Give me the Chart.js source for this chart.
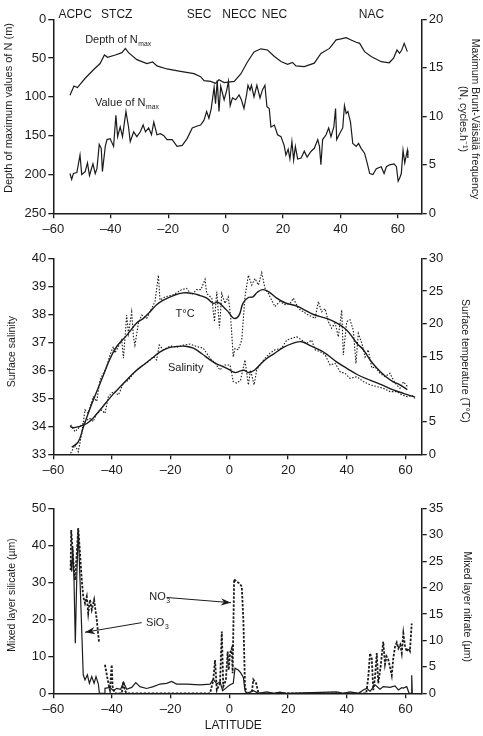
<!DOCTYPE html>
<html>
<head>
<meta charset="utf-8">
<script src="https://cdn.jsdelivr.net/npm/chart.js@4.4.1/dist/chart.umd.min.js"></script>
<style>
  html, body { margin: 0; padding: 0; background: #fff; }
  #wrap { position: relative; width: 483px; height: 736px; }
  canvas { position: absolute; left: 0; }
</style>
</head>
<body>
<div id="wrap">
  <canvas id="c1" width="483" height="240" style="top:0"></canvas>
  <canvas id="c2" width="483" height="240" style="top:240px"></canvas>
  <canvas id="c3" width="483" height="256" style="top:480px"></canvas>
</div>
<script>
// ---- data (latitude, value) ----
const latTicks = [-60, -40, -20, 0, 20, 40, 60]
const depthTicks = [0, 50, 100, 150, 200, 250]
const freqTicks = [0, 5, 10, 15, 20]
const salTicks = [33, 34, 35, 36, 37, 38, 39, 40]
const tempTicks = [0, 5, 10, 15, 20, 25, 30]
const silTicks = [0, 10, 20, 30, 40, 50]
const nitTicks = [0, 5, 10, 15, 20, 25, 30, 35]

const currents = ['ACPC', 'STCZ', 'SEC', 'NECC', 'NEC', 'NAC']
const currentLat = [-52.4, -37.9, -9.2, 4.8, 17.0, 50.8]

// panel 1: depth of Nmax (m) and value of Nmax (cycles/h)
const depthNmax = [[-54.2,98],[-52.8,86],[-51.6,88],[-48.9,76],[-46.0,65],[-43.7,57],[-42.2,46],[-41.1,49],[-38.4,46],[-36.1,43],[-34.9,37.5],[-33.8,43],[-30.9,52],[-27.4,57],[-25.4,55],[-23.9,60],[-20.4,64],[-15.7,67],[-11.0,70],[-8.7,74],[-7.5,79],[-5.2,80],[-3.5,82.5],[-2.3,78],[-0.5,81.5],[3.0,80],[5.3,70.5],[7.6,55],[9.9,42],[12.3,38],[14.6,39.5],[17.0,48],[19.3,54.5],[21.6,58],[23.3,55.5],[24.5,60],[27.4,61],[30.9,56.5],[33.2,44],[36.2,37.5],[38.5,26.5],[40.2,25.3],[42.0,23.6],[43.7,26.6],[45.5,29.6],[46.7,31],[48.4,41.7],[50.7,48],[54.2,54.6],[57.0,56],[58.5,50],[59.7,39.6],[60.6,43.8],[61.3,40],[62.2,31],[63.3,41.7]]
const valueNmax = [[-54.2,4.1],[-53.6,3.5],[-53.0,4.1],[-51.8,4.2],[-50.7,6.0],[-50.1,4.0],[-48.9,4.3],[-48.1,5.2],[-47.4,3.9],[-46.2,5.1],[-45.4,4.1],[-44.8,4.6],[-44.0,7.1],[-43.3,6.7],[-42.9,4.3],[-41.9,6.9],[-41.3,7.6],[-40.2,7.7],[-39.0,6.9],[-38.2,10.1],[-37.6,7.9],[-36.7,8.9],[-35.9,7.9],[-34.7,10.5],[-33.8,8.9],[-33.2,7.4],[-32.0,8.4],[-30.9,7.9],[-29.7,8.4],[-28.7,9.1],[-27.9,8.4],[-26.8,8.8],[-25.8,8.1],[-25.0,9.4],[-23.9,8.1],[-22.7,8.2],[-21.5,8.0],[-20.4,7.6],[-18.6,7.6],[-16.9,6.9],[-15.1,7.0],[-13.4,7.7],[-11.6,8.8],[-9.9,9.0],[-8.7,9.1],[-7.5,9.6],[-6.6,10.5],[-5.8,9.8],[-5.0,10.8],[-4.0,13.0],[-3.5,11.3],[-2.9,13.7],[-2.3,10.5],[-1.7,13.1],[-1.1,12.4],[-0.5,11.7],[0.4,12.7],[1.0,13.6],[1.6,11.1],[2.4,11.9],[3.5,11.7],[4.7,12.2],[5.5,11.7],[6.4,10.8],[7.3,12.2],[7.8,13.2],[8.5,12.7],[9.0,13.2],[9.9,12.0],[10.9,13.2],[12.0,11.9],[12.8,12.7],[13.7,13.2],[14.4,11.0],[15.2,10.8],[15.8,8.9],[17.0,9.1],[18.1,8.1],[19.3,7.9],[20.4,7.0],[21.0,6.0],[21.8,6.6],[22.4,5.6],[23.1,7.4],[23.7,5.5],[24.3,6.9],[25.1,5.6],[26.3,5.7],[27.4,6.4],[28.4,5.8],[29.8,6.4],[30.9,6.7],[32.1,7.6],[32.7,6.9],[33.2,5.0],[33.8,7.6],[35.0,8.1],[35.9,8.8],[36.7,7.9],[37.7,8.9],[38.3,10.8],[38.7,7.6],[39.7,8.2],[40.8,8.8],[41.4,11.1],[42.0,10.3],[42.6,10.5],[43.5,9.4],[44.3,7.2],[45.5,6.9],[46.3,7.2],[47.2,6.7],[48.4,6.2],[49.3,5.2],[50.2,4.1],[51.3,4.0],[52.5,4.6],[54.2,4.8],[55.2,4.1],[56.0,4.8],[57.1,5.0],[58.7,5.1],[59.5,4.8],[60.1,3.3],[60.6,3.6],[61.2,4.1],[61.8,6.5],[62.4,5.2],[63.3,6.5],[63.5,5.7]]

// panel 2: surface temperature and salinity, smoothed and raw
const tempSmooth = [[-53.7,1.1],[-51.5,1.9],[-49.8,4.1],[-47.5,7.0],[-45.2,9.6],[-42.95,12.1],[-40.7,14.6],[-38.4,16.5],[-35.0,18.2],[-31.6,20.1],[-29.3,20.8],[-27.1,21.8],[-24.8,22.9],[-22.5,23.6],[-19.1,24.3],[-15.7,24.7],[-12.3,24.6],[-10.0,24.3],[-7.7,23.9],[-5.5,23.1],[-4.0,23.3],[-2.1,22.6],[-0.4,21.8],[1.6,20.8],[3.3,21.3],[4.6,23.1],[6.45,24.0],[8.0,24.1],[9.5,24.8],[11.3,25.2],[13.3,24.9],[16.1,23.9],[18.9,23.2],[22.9,22.7],[25.2,22.2],[28.6,21.4],[33.1,20.8],[36.5,20.1],[40.0,19.0],[43.4,17.0],[45.6,16.0],[48.0,14.4],[50.2,13.2],[53.2,11.9],[55.8,11.1],[58.2,10.6],[60.6,9.9]]
const tempRaw = [[-54.1,0.15],[-52.6,1.4],[-51.5,0.4],[-50.3,3.2],[-49.2,6.8],[-48.1,6.3],[-46.4,8.8],[-45.2,8.1],[-44.1,11.4],[-42.95,12.4],[-41.8,13.4],[-40.7,15.2],[-39.55,16.5],[-39.0,15.5],[-36.7,17.5],[-36.1,14.7],[-35.0,21.3],[-34.4,18.5],[-33.3,21.8],[-32.7,18.0],[-32.2,16.7],[-31.0,20.1],[-29.9,21.3],[-28.2,20.8],[-26.5,22.3],[-25.35,23.4],[-24.2,27.4],[-23.65,23.6],[-21.9,24.1],[-19.1,24.4],[-16.3,25.2],[-14.6,25.4],[-12.9,24.4],[-11.2,25.2],[-9.7,25.2],[-8.3,26.8],[-7.75,24.6],[-6.0,23.9],[-5.1,20.3],[-4.3,24.9],[-3.4,19.3],[-2.6,24.6],[-1.5,23.1],[-0.4,24.1],[0.4,21.1],[1.3,14.9],[1.9,16.2],[3.0,16.0],[4.2,17.5],[5.3,24.1],[6.45,27.4],[7.6,25.9],[8.7,26.9],[9.9,25.9],[11.0,27.8],[12.1,25.4],[13.3,24.6],[14.4,23.6],[15.5,22.6],[17.2,23.4],[18.9,22.9],[20.65,23.1],[21.8,23.9],[23.5,22.3],[25.2,21.8],[26.9,21.3],[28.0,21.1],[29.2,20.8],[30.3,23.4],[31.4,21.8],[32.6,22.3],[33.7,20.3],[34.8,19.3],[36.0,20.1],[37.1,18.0],[38.25,22.1],[38.8,15.2],[39.95,20.3],[41.1,20.6],[42.2,19.0],[43.1,13.9],[43.9,18.5],[45.1,17.0],[46.2,14.9],[47.3,16.0],[48.5,13.2],[49.6,13.4],[51.3,12.4],[53.0,11.9],[54.7,12.4],[56.4,10.9],[58.1,10.1],[59.3,11.1],[60.6,10.4]]
const salSmooth = [[-54.3,34.0],[-53.2,33.95],[-51.0,34.0],[-48.6,34.1],[-46.4,34.3],[-44.1,34.58],[-42.0,34.85],[-39.6,35.15],[-37.3,35.4],[-35.0,35.65],[-32.2,35.95],[-29.3,36.19],[-26.5,36.42],[-23.6,36.66],[-20.8,36.8],[-18.0,36.85],[-15.0,36.86],[-12.3,36.79],[-9.5,36.6],[-6.6,36.37],[-4.4,36.23],[-2.1,36.13],[-0.4,36.04],[1.9,35.92],[3.6,35.97],[5.0,36.0],[6.6,35.92],[8.5,36.0],[10.4,36.2],[12.7,36.42],[15.0,36.58],[18.4,36.82],[21.8,36.97],[24.6,37.02],[27.5,36.88],[30.9,36.72],[33.2,36.57],[36.5,36.3],[40.0,36.07],[43.5,35.85],[47.9,35.65],[51.5,35.5],[55.8,35.3],[59.5,35.17],[63.2,35.04]]
const salRaw = [[-54.1,34.05],[-52.6,33.81],[-50.9,33.99],[-49.2,34.17],[-47.7,34.29],[-46.4,34.17],[-45.2,34.46],[-43.5,34.58],[-42.4,34.46],[-41.25,35.06],[-39.55,35.24],[-37.8,35.12],[-36.1,35.54],[-34.4,35.65],[-32.7,35.89],[-31.0,36.07],[-29.3,36.19],[-27.6,36.31],[-25.9,36.49],[-24.8,36.37],[-23.9,36.9],[-22.5,36.73],[-20.2,36.87],[-18.0,36.82],[-15.7,36.9],[-13.4,36.94],[-11.2,36.85],[-8.9,36.79],[-7.75,36.61],[-6.6,36.43],[-4.9,36.25],[-3.2,36.01],[-1.8,36.19],[0.2,36.19],[1.3,35.6],[2.5,35.54],[3.8,35.65],[5.3,36.37],[6.45,35.48],[7.2,36.01],[8.4,35.48],[9.3,36.01],[10.4,36.19],[12.1,36.43],[13.8,36.61],[15.5,36.73],[17.8,36.79],[19.5,37.08],[21.2,37.14],[22.9,37.2],[24.6,37.08],[26.3,36.96],[28.0,37.08],[29.2,36.73],[30.9,36.67],[32.6,36.55],[34.3,36.19],[36.0,36.25],[37.7,35.95],[39.4,35.89],[41.1,35.71],[43.4,35.77],[45.6,35.6],[47.9,35.48],[50.2,35.42],[52.4,35.36],[54.7,35.24],[57.0,35.24],[58.7,35.12],[60.6,35.06],[62.3,35.1],[63.2,35.0]]

// panel 3: mixed layer silicate and nitrate (µm)
const silicate = [[-54.1,36.0],[-53.7,32.9],[-53.4,39.6],[-52.95,30.6],[-52.5,13.5],[-52.0,31.5],[-51.5,44.6],[-50.9,30.6],[-49.8,5.0],[-49.2,3.6],[-48.4,5.0],[-47.7,2.7],[-46.9,4.5],[-46.1,2.7],[-45.45,4.5],[-44.65,2.5],[-44.3,0],[-42.7,0],[-42.4,1.35],[-40.7,1.6],[-39.55,0.7],[-38.4,1.35],[-37.05,1.1],[-36.1,3.0],[-35.0,1.1],[-33.3,1.6],[-31.9,2.9],[-30.5,1.8],[-28.2,1.3],[-25.9,1.8],[-23.65,2.5],[-21.4,2.7],[-19.7,3.2],[-18.0,2.5],[-14.6,2.5],[-10.0,2.3],[-6.6,2.5],[-5.5,3.8],[-4.3,2.5],[-3.2,3.1],[-2.3,0.7],[-0.9,1.6],[0.2,2.3],[1.3,2.7],[1.9,6.8],[3.0,6.3],[3.8,5.6],[4.75,4.3],[5.3,0.7],[5.9,0],[8.15,0.7],[9.9,0],[12.7,0.4],[15.0,0],[17.2,0.3],[19.5,0],[36.5,0.4],[38.8,0],[41.1,0.4],[43.9,0],[45.6,0.9],[46.8,1.35],[47.9,0.5],[49.6,2.3],[51.3,1.1],[52.4,1.8],[54.7,1.6],[56.4,2.0],[57.55,0.9],[58.7,1.5],[59.25,1.4],[60.4,1.8],[61.2,0],[61.9,0],[62.1,4.9],[62.3,0]]
const nitrate = [[-54.1,23.3],[-53.9,30.9],[-53.5,27.7],[-53.2,25.2],[-52.6,21.4],[-52.0,26.5],[-51.5,31.2],[-50.9,26.5],[-50.3,21.4],[-49.8,18.3],[-49.2,17.0],[-48.6,18.3],[-48.1,15.1],[-47.5,17.7],[-46.9,15.8],[-46.1,17.7],[-45.2,13.9],[-44.4,9.5],[-43.4,null],[-42.4,5.4],[-41.25,1.9],[-40.7,0.6],[-40.1,5.4],[-39.8,1.3],[-39.0,0],[-36.7,0],[-36.1,2.2],[-35.6,0.5],[-35.0,0],[-6.6,0],[-5.5,2.5],[-4.9,6.3],[-4.3,0.6],[-3.2,1.9],[-2.6,11.7],[-2.1,1.3],[-1.2,2.5],[-0.6,7.9],[-0.25,4.4],[0.2,7.6],[0.8,8.5],[1.1,3.8],[1.6,21.6],[2.5,21.1],[3.4,20.8],[4.2,20.2],[4.75,13.9],[5.3,1.3],[5.9,0],[7.6,0],[8.15,2.6],[9.1,1.9],[9.9,0],[46.6,0],[47.3,3.0],[47.9,7.6],[48.5,6.5],[49.0,0.6],[49.6,3.0],[50.2,7.6],[50.7,1.9],[51.5,5.0],[52.4,9.8],[53.0,5.5],[53.5,7.0],[54.1,6.4],[54.7,5.0],[55.3,3.4],[55.8,6.5],[56.4,8.8],[57.0,9.6],[57.55,8.5],[58.2,9.2],[58.7,7.6],[59.25,11.35],[59.8,9.0],[60.4,7.9],[61.0,8.5],[61.5,8.0],[62.1,13.2]]

// ---- drawing ----
const FONT = '"Liberation Sans", Arial, Helvetica, sans-serif'
const INK = '#1b1b1b'

function pts(arr) {
  return arr.map(p => ({ x: p[0], y: p[1] }))
}

function fmt(v) {
  return v < 0 ? '\u2013' + Math.abs(v) : String(v)
}

function axis(o) {
  return {
    type: 'linear',
    position: o.position,
    min: o.min,
    max: o.max,
    reverse: !!o.reverse,
    afterBuildTicks: s => { s.ticks = o.ticks.map(v => ({ value: v })) },
    afterFit: s => {
      if (o.width != null) s.width = o.width
      if (o.height != null) s.height = o.height
    },
    grid: { drawOnChartArea: false, drawTicks: true, tickLength: 5, color: INK, lineWidth: 1.3 },
    border: { display: true, color: INK, width: 1.5 },
    ticks: {
      color: INK,
      font: { family: FONT, size: 13 },
      padding: o.pad != null ? o.pad : 2,
      maxRotation: 0,
      autoSkip: false,
      callback: v => fmt(v)
    }
  }
}

function line(data, axisId, style) {
  return Object.assign({
    data: pts(data),
    yAxisID: axisId,
    borderColor: INK,
    borderWidth: 1.2,
    pointRadius: 0,
    tension: 0,
    spanGaps: false
  }, style || {})
}

function drawText(ctx, it, x, y) {
  const size = it.size || 11
  const main = size + 'px ' + FONT
  const small = (size * 0.62).toFixed(1) + 'px ' + FONT
  ctx.font = main
  const w = ctx.measureText(it.text).width
  let sw = 0
  if (it.sub) {
    ctx.font = small
    sw = ctx.measureText(it.sub).width
  }
  let x0 = x
  if (it.align === 'center') x0 = x - (w + sw) / 2
  ctx.textAlign = 'left'
  ctx.textBaseline = 'middle'
  ctx.font = main
  ctx.fillText(it.text, x0, y)
  if (it.sub) {
    ctx.font = small
    ctx.fillText(it.sub, x0 + w + 0.5, y + size * 0.38)
  }
}

function drawArrow(ctx, x1, y1, x2, y2) {
  ctx.lineWidth = 1
  ctx.beginPath()
  ctx.moveTo(x1, y1)
  ctx.lineTo(x2, y2)
  ctx.stroke()
  const a = Math.atan2(y2 - y1, x2 - x1)
  const len = 10, half = 3.6
  ctx.beginPath()
  ctx.moveTo(x2, y2)
  ctx.lineTo(x2 - len * Math.cos(a) + half * Math.sin(a), y2 - len * Math.sin(a) - half * Math.cos(a))
  ctx.lineTo(x2 - len * 0.7 * Math.cos(a), y2 - len * 0.7 * Math.sin(a))
  ctx.lineTo(x2 - len * Math.cos(a) - half * Math.sin(a), y2 - len * Math.sin(a) + half * Math.cos(a))
  ctx.closePath()
  ctx.fill()
}

// notes: labels, arrows and axis titles
const notes = {
  id: 'notes',
  afterDraw(chart, args, opts) {
    const ctx = chart.ctx
    const xs = chart.scales.x
    ctx.save()
    ctx.fillStyle = INK
    ctx.strokeStyle = INK
    for (const it of opts.items || []) {
      if (it.arrow) {
        const ys = chart.scales[it.axis || 'y']
        const [p, q] = it.arrow
        drawArrow(ctx, xs.getPixelForValue(p[0]), ys.getPixelForValue(p[1]),
          xs.getPixelForValue(q[0]), ys.getPixelForValue(q[1]))
        continue
      }
      const px = it.lat != null ? xs.getPixelForValue(it.lat) : it.px
      const py = it.val != null ? chart.scales[it.axis || 'y'].getPixelForValue(it.val) : it.py
      if (it.rot) {
        ctx.save()
        ctx.translate(px, py)
        ctx.rotate(it.rot * Math.PI / 2)
        drawText(ctx, Object.assign({}, it, { align: 'center' }), 0, 0)
        ctx.restore()
      } else {
        drawText(ctx, it, px, py)
      }
    }
    ctx.restore()
  }
}

function baseOptions(top, scales, items) {
  return {
    responsive: false,
    animation: false,
    devicePixelRatio: 1,
    layout: { padding: { top: top, left: 0, right: 0, bottom: 0 } },
    plugins: {
      legend: { display: false },
      tooltip: { enabled: false },
      notes: { items: items }
    },
    scales: scales
  }
}

// panel 1
new Chart(document.getElementById('c1'), {
  type: 'line',
  data: {
    datasets: [
      line(depthNmax, 'y'),
      line(valueNmax, 'y2')
    ]
  },
  options: baseOptions(19.3, {
    x: axis({ position: 'bottom', min: -60, max: 68.3, ticks: latTicks, height: 26.7, pad: 3 }),
    y: axis({ position: 'left', min: 0, max: 250, reverse: true, ticks: depthTicks, width: 53.3 }),
    y2: axis({ position: 'right', min: 0, max: 20, ticks: freqTicks, width: 61.3 })
  }, [
    ...currents.map((c, i) => ({ text: c, lat: currentLat[i], py: 15, size: 12, align: 'center' })),
    { text: 'Depth of N', sub: 'max', lat: -48.9, val: 26.7, size: 11 },
    { text: 'Value of N', sub: 'max', lat: -45.5, val: 108.2, size: 11 },
    { text: 'Depth of maximum values of N (m)', px: 8.5, py: 108, rot: -1, size: 11 },
    { text: 'Maximum Brunt-Väisälä frequency', px: 475, py: 119, rot: 1, size: 10.5 },
    { text: '(N, cycles.h\u207B\u00B9)', px: 463, py: 119, rot: 1, size: 10.5 }
  ]),
  plugins: [notes]
})

// panel 2
new Chart(document.getElementById('c2'), {
  type: 'line',
  data: {
    datasets: [
      line(tempRaw, 'y2', { borderDash: [1.5, 1.6], borderWidth: 1.1 }),
      line(salRaw, 'y', { borderDash: [1.5, 1.6], borderWidth: 1.1 }),
      line(tempSmooth, 'y2', { tension: 0.4, borderWidth: 1.4 }),
      line(salSmooth, 'y', { tension: 0.4, borderWidth: 1.4 })
    ]
  },
  options: baseOptions(18.3, {
    x: axis({ position: 'bottom', min: -60, max: 65.5, ticks: latTicks, height: 25.7, pad: 3 }),
    y: axis({ position: 'left', min: 33, max: 40, ticks: salTicks, width: 53.3 }),
    y2: axis({ position: 'right', min: 0, max: 30, ticks: tempTicks, width: 61.3 })
  }, [
    { text: 'T\u00B0C', lat: -15.1, val: 38.01, size: 11, align: 'center' },
    { text: 'Salinity', lat: -14.9, val: 36.07, size: 11, align: 'center' },
    { text: 'Surface salinity', px: 12.5, py: 111.7, rot: -1, size: 10.5 },
    { text: 'Surface temperature (T\u00B0C)', px: 465, py: 120.8, rot: 1, size: 10.5 }
  ]),
  plugins: [notes]
})

// panel 3
new Chart(document.getElementById('c3'), {
  type: 'line',
  data: {
    datasets: [
      line(nitrate, 'y2', { borderDash: [2.5, 1.5], borderWidth: 1.8 }),
      line(silicate, 'y', { borderWidth: 1.2 })
    ]
  },
  options: baseOptions(28.3, {
    x: axis({ position: 'bottom', min: -60, max: 65.5, ticks: latTicks, height: 42.7, pad: 3 }),
    y: axis({ position: 'left', min: 0, max: 50, ticks: silTicks, width: 53.3 }),
    y2: axis({ position: 'right', min: 0, max: 35, ticks: nitTicks, width: 61.3 })
  }, [
    { text: 'NO', sub: '3', lat: -27.3, val: 26.1, size: 11 },
    { arrow: [[-21.4, 25.9], [0.5, 24.5]] },
    { text: 'SiO', sub: '3', lat: -28.4, val: 18.9, size: 11 },
    { arrow: [[-29.9, 19.1], [-49.2, 16.5]] },
    { text: 'Mixed layer silicate (\u00B5m)', px: 12.5, py: 115, rot: -1, size: 10.5 },
    { text: 'Mixed layer nitrate (\u00B5m)', px: 466.7, py: 126.7, rot: 1, size: 10.5 },
    { text: 'LATITUDE', px: 233.3, py: 246, size: 12, align: 'center' }
  ]),
  plugins: [notes]
})
</script>
</body>
</html>
